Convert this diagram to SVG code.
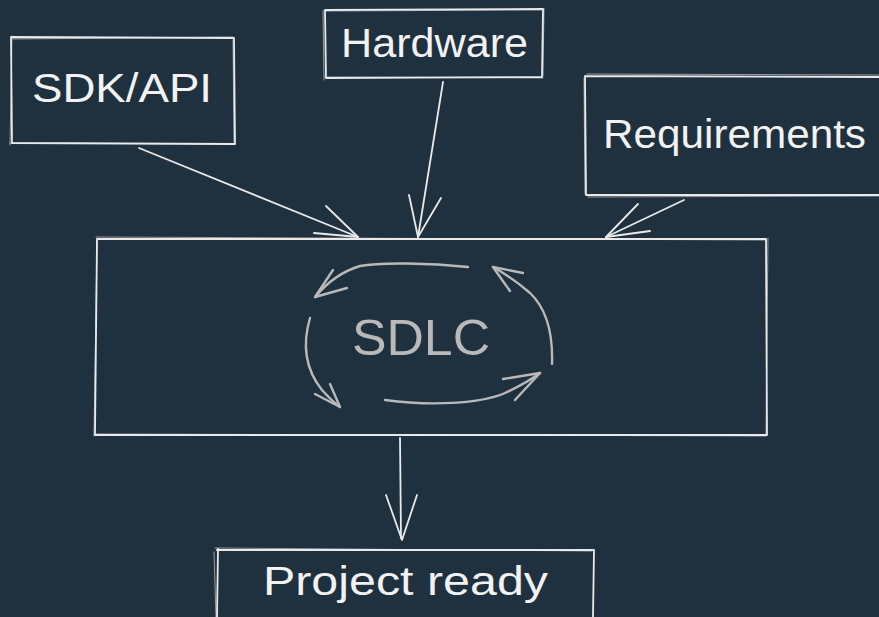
<svg xmlns="http://www.w3.org/2000/svg" width="879" height="617" viewBox="0 0 879 617">
  <style>
    .bg { fill: #1f303e; }
    .box { fill: none; stroke: #e9e9e9; stroke-width: 1.8; stroke-linecap: round; stroke-linejoin: round; }
    .box2 { fill: none; stroke: #e9e9e9; stroke-width: 1; stroke-opacity: 0.6; stroke-linecap: round; }
    .edge { fill: none; stroke: #e9e9e9; stroke-width: 1.8; stroke-linecap: round; stroke-linejoin: round; }
    .cycle { fill: none; stroke: #b9b9b9; stroke-width: 2.4; stroke-linecap: round; stroke-linejoin: round; }
    .label { fill: #f2f2f2; font-family: "Liberation Sans", "DejaVu Sans", sans-serif; font-size: 40px; }
    .core { fill: #b9b9b9; font-family: "Liberation Sans", "DejaVu Sans", sans-serif; font-size: 50px; }
  </style>
  <rect class="bg" x="0" y="0" width="879" height="617"/>

  <g id="sdk-api">
    <path class="box" d="M11 37 L234 38 L235 144 L12 143 Z"/>
    <path class="box2" d="M13 39 L233 37 M233 40 L234 142 M234 144 L10 143 M10 145 L12 36"/>
    <text class="label" x="32" y="102" textLength="180" lengthAdjust="spacingAndGlyphs">SDK/API</text>
  </g>

  <g id="hardware">
    <path class="box" d="M325 10 L543 9 L542 77 L326 78 Z"/>
    <path class="box2" d="M323 11 L541 10 M544 8 L543 76 M543 78 L325 77 M324 80 L323 12"/>
    <text class="label" x="341" y="57" textLength="187" lengthAdjust="spacingAndGlyphs">Hardware</text>
  </g>

  <g id="requirements">
    <path class="box" d="M585 76 L879 77 M585 76 L586 195 L879 195"/>
    <path class="box2" d="M587 74 L879 75 M584 78 L585 194 M588 197 L879 196"/>
    <text class="label" x="603" y="148" textLength="263" lengthAdjust="spacingAndGlyphs">Requirements</text>
  </g>

  <g id="sdlc">
    <path class="box" d="M97 239 L766 239 L767 435 L95 435 Z"/>
    <path class="box2" d="M96 237 L765 240 M768 238 L766 434 M766 436 L96 434 M94 436 L97 241"/>
    <text class="core" x="352" y="355" textLength="138" lengthAdjust="spacingAndGlyphs">SDLC</text>
    <g id="sdlc-cycle">
      <path class="cycle" d="M468 267 C430 263 380 262 360 266 C340 272 325 285 315 297"/>
      <path class="cycle" d="M333 270 L315 297 L347 288"/>
      <path class="cycle" d="M552 364 C553 335 548 310 530 293 C515 280 502 272 493 267"/>
      <path class="cycle" d="M510 291 L493 267 L523 273"/>
      <path class="cycle" d="M385 400 C430 406 480 404 505 393 C520 386 532 379 540 373"/>
      <path class="cycle" d="M503 379 L540 373 L515 400"/>
      <path class="cycle" d="M310 318 C302 345 306 370 322 390 C330 399 336 404 340 407"/>
      <path class="cycle" d="M330 384 L340 407 L315 394"/>
    </g>
  </g>

  <g id="project-ready">
    <path class="box" d="M217 550 L594 550 L593 617 M218 549 L217 617"/>
    <path class="box2" d="M215 548 L592 551 M214 552 L216 617"/>
    <text class="label" x="263" y="595" textLength="285" lengthAdjust="spacingAndGlyphs">Project ready</text>
  </g>

  <g id="connectors">
    <path class="edge" d="M139 148 L358 237"/>
    <path class="edge" d="M326 206 L358 237 L314 233"/>
    <path class="edge" d="M443 82 L418 237"/>
    <path class="edge" d="M409 195 L418 237 L441 198"/>
    <path class="edge" d="M684 200 L606 237"/>
    <path class="edge" d="M638 204 L606 237 L650 231"/>
    <path class="edge" d="M400 438 L401 538"/>
    <path class="edge" d="M386 495 L402 540 L417 495"/>
  </g>
</svg>
